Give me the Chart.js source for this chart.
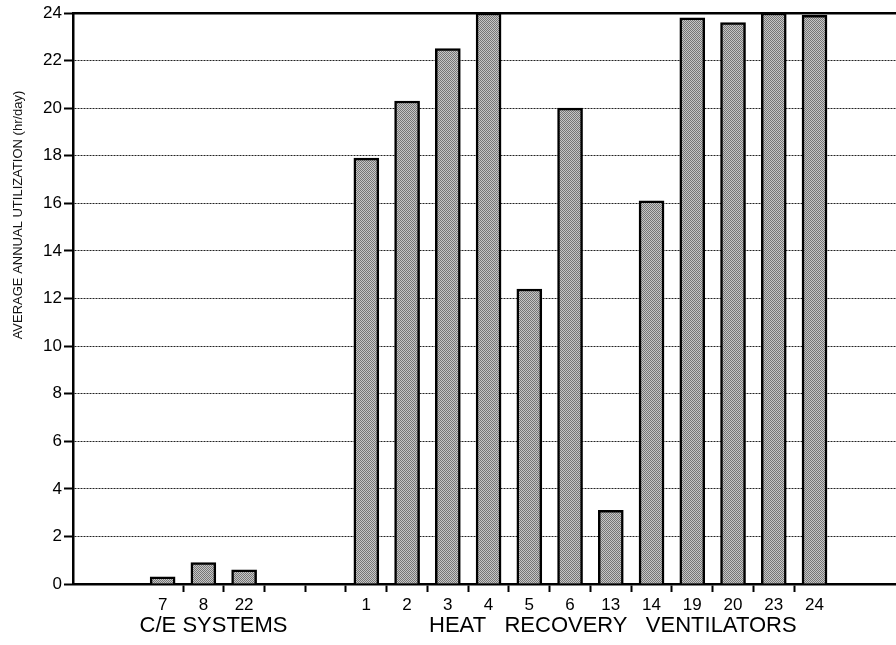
<!DOCTYPE html>
<html lang="en">
<head>
    <meta charset="UTF-8">
    <title>Average Annual Utilization</title>
    <script src="https://cdn.jsdelivr.net/npm/chart.js"></script>
</head>
<body>
    <style>
        body {
            margin: 0;
            background: #fff;
        }
        .main {
            width: 896px;
            height: 645px;
        }
    </style>
    <div class="main">
        <canvas id="utilChart" width="896" height="645"></canvas>
    </div>

    <script>
        // C/E systems and heat recovery ventilators, hr/day
        const ceLabels = ['7', '8', '22'];
        const ceValues = [0.3, 0.9, 0.6];
        const hrvLabels = ['1', '2', '3', '4', '5', '6', '13', '14', '19', '20', '23', '24'];
        const hrvValues = [17.9, 20.3, 22.5, 24.0, 12.4, 20.0, 3.1, 16.1, 23.8, 23.6, 24.0, 23.9];
        const groupNames = ['C/E SYSTEMS', 'HEAT   RECOVERY   VENTILATORS'];
        const yTicks = [0, 2, 4, 6, 8, 10, 12, 14, 16, 18, 20, 22, 24];
        const gapSlots = 2;

        const FONT = "'Liberation Sans', Arial, sans-serif";

        // one slot per unit on the x axis, empty slots between the two groups
        const hrvStart = ceLabels.length + gapSlots;
        const slotLabels = [];
        ceLabels.forEach((l, i) => slotLabels[i] = l);
        hrvLabels.forEach((l, i) => slotLabels[hrvStart + i] = l);
        const lastSlot = hrvStart + hrvLabels.length - 1;

        const points = [];
        ceValues.forEach((v, i) => points.push({ x: i, y: v }));
        hrvValues.forEach((v, i) => points.push({ x: hrvStart + i, y: v }));

        // centres carry labels, the half steps carry the tick marks
        const xTickValues = [];
        for (let i = 0; i <= lastSlot; i++) {
            xTickValues.push(i);
            if (i < lastSlot) xTickValues.push(i + 0.5);
        }
        const isCentre = c => !c.tick || Number.isInteger(c.tick.value);

        // halftone grey fill
        function halftone() {
            const c = document.createElement('canvas');
            c.width = 4; c.height = 4;
            const g = c.getContext('2d');
            g.fillStyle = '#c6c6c6';
            g.fillRect(0, 0, 4, 4);
            g.fillStyle = '#767676';
            for (let y = 0; y < 4; y++) {
                for (let x = 0; x < 4; x++) {
                    if ((x + y) % 2 === 0) g.fillRect(x, y, 1, 1);
                }
            }
            return g.createPattern(c, 'repeat');
        }

        const groupLabelPlugin = {
            id: 'groupLabels',
            afterDraw(chart) {
                const ctx = chart.ctx;
                const x = chart.scales.x;
                ctx.save();
                ctx.fillStyle = '#000';
                ctx.font = '22px ' + FONT;
                ctx.textAlign = 'center';
                ctx.textBaseline = 'middle';
                ctx.fillText(groupNames[0], x.getPixelForValue(1.25), 626);
                ctx.fillText(groupNames[1], x.getPixelForValue(hrvStart + 6.05), 626);

                // y axis title
                ctx.translate(18, 215);
                ctx.rotate(-Math.PI / 2);
                ctx.font = '13px ' + FONT;
                ctx.fillStyle = '#111';
                ctx.fillText('AVERAGE ANNUAL UTILIZATION (hr/day)', 0, 0);
                ctx.restore();
            }
        };

        const ctx = document.getElementById('utilChart').getContext('2d');
        new Chart(ctx, {
            type: 'bar',
            data: {
                datasets: [{
                    data: points,
                    backgroundColor: halftone(),
                    borderColor: '#000',
                    borderWidth: 2.5,
                    barThickness: 25
                }]
            },
            plugins: [groupLabelPlugin],
            options: {
                responsive: false,
                animation: false,
                layout: { padding: { top: 13, right: 0, left: 0, bottom: 0 } },
                plugins: {
                    legend: { display: false },
                    tooltip: { enabled: false }
                },
                scales: {
                    x: {
                        type: 'linear',
                        min: -2.2,
                        max: 18.0,
                        offset: false,
                        afterBuildTicks: scale => {
                            scale.ticks = xTickValues.map(v => ({ value: v }));
                        },
                        afterFit: scale => { scale.height = 61; },
                        ticks: {
                            autoSkip: false,
                            maxRotation: 0,
                            padding: 3,
                            color: '#000',
                            font: { family: FONT, size: 17 },
                            callback: v => Number.isInteger(v) ? (slotLabels[v] || '') : ''
                        },
                        grid: {
                            offset: false,
                            drawOnChartArea: false,
                            tickLength: 8,
                            tickWidth: 2,
                            tickColor: c => isCentre(c) ? 'rgba(0,0,0,0)' : '#000'
                        },
                        border: { color: '#000', width: 2.5 }
                    },
                    xTop: {
                        type: 'linear',
                        position: 'top',
                        min: -2.2,
                        max: 18.0,
                        offset: false,
                        afterFit: scale => { scale.height = 0; },
                        ticks: { display: false },
                        grid: { display: false },
                        border: { color: '#000', width: 2.5 }
                    },
                    y: {
                        min: 0,
                        max: 24,
                        afterBuildTicks: scale => {
                            scale.ticks = yTicks.map(v => ({ value: v }));
                        },
                        afterFit: scale => { scale.width = 73; },
                        ticks: {
                            padding: 2,
                            color: '#000',
                            font: { family: FONT, size: 17 }
                        },
                        grid: {
                            color: '#222',
                            lineWidth: 1,
                            tickLength: 9,
                            tickWidth: 2,
                            tickColor: '#000'
                        },
                        border: { color: '#000', width: 2.5, dash: [2, 1] }
                    }
                }
            }
        });
    </script>
</body>
</html>
